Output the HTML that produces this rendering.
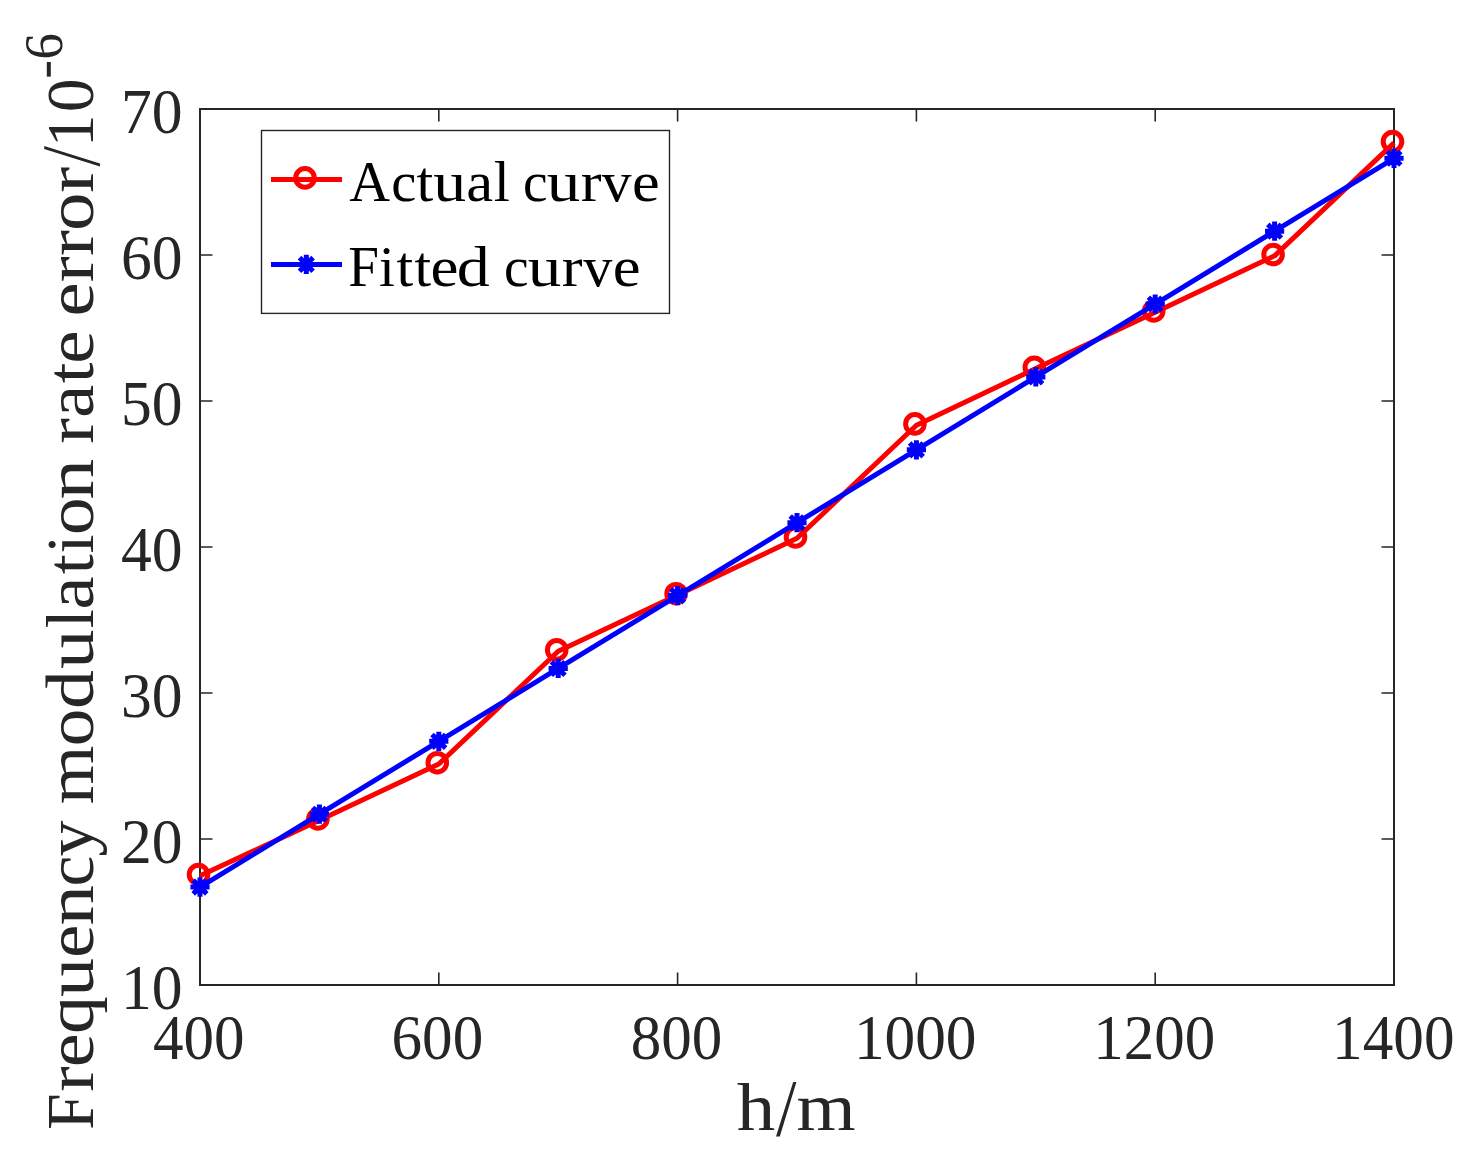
<!DOCTYPE html>
<html><head><meta charset="utf-8"><style>
html,body{margin:0;padding:0;background:#fff;width:1473px;height:1152px;overflow:hidden}
svg{display:block}
text{font-family:"Liberation Serif",serif;font-kerning:none;white-space:pre}
</style></head><body>
<svg width="1473" height="1152" viewBox="0 0 1473 1152">
<rect x="0" y="0" width="1473" height="1152" fill="#fff"/>
<path d="M200.00 985.0V972.5M200.00 109.0V121.5M438.80 985.0V972.5M438.80 109.0V121.5M677.60 985.0V972.5M677.60 109.0V121.5M916.40 985.0V972.5M916.40 109.0V121.5M1155.20 985.0V972.5M1155.20 109.0V121.5M1394.00 985.0V972.5M1394.00 109.0V121.5M200.0 985.00H212.5M1394.0 985.00H1381.5M200.0 839.00H212.5M1394.0 839.00H1381.5M200.0 693.00H212.5M1394.0 693.00H1381.5M200.0 547.00H212.5M1394.0 547.00H1381.5M200.0 401.00H212.5M1394.0 401.00H1381.5M200.0 255.00H212.5M1394.0 255.00H1381.5M200.0 109.00H212.5M1394.0 109.00H1381.5" stroke="#262626" stroke-width="1.6" fill="none"/>
<rect x="200.0" y="109.0" width="1194.0" height="876.0" stroke="#262626" stroke-width="2" fill="none"/>
<polyline points="200.00,875.80 319.40,820.30 438.80,764.00 558.20,651.20 677.60,595.00 797.00,538.30 916.40,425.20 1035.80,368.60 1155.20,312.30 1274.60,255.85 1394.00,142.90" fill="none" stroke="#f00" stroke-width="5" stroke-linejoin="round"/>
<circle cx="198.50" cy="874.50" r="9.3" fill="none" stroke="#f00" stroke-width="5"/>
<circle cx="317.90" cy="819.00" r="9.3" fill="none" stroke="#f00" stroke-width="5"/>
<circle cx="437.30" cy="762.70" r="9.3" fill="none" stroke="#f00" stroke-width="5"/>
<circle cx="556.70" cy="649.90" r="9.3" fill="none" stroke="#f00" stroke-width="5"/>
<circle cx="676.10" cy="593.70" r="9.3" fill="none" stroke="#f00" stroke-width="5"/>
<circle cx="795.50" cy="537.00" r="9.3" fill="none" stroke="#f00" stroke-width="5"/>
<circle cx="914.90" cy="423.90" r="9.3" fill="none" stroke="#f00" stroke-width="5"/>
<circle cx="1034.30" cy="367.30" r="9.3" fill="none" stroke="#f00" stroke-width="5"/>
<circle cx="1153.70" cy="311.00" r="9.3" fill="none" stroke="#f00" stroke-width="5"/>
<circle cx="1273.10" cy="254.55" r="9.3" fill="none" stroke="#f00" stroke-width="5"/>
<circle cx="1392.50" cy="141.60" r="9.3" fill="none" stroke="#f00" stroke-width="5"/>
<polyline points="200.00,887.10 319.40,814.22 438.80,741.34 558.20,668.46 677.60,595.58 797.00,522.70 916.40,449.82 1035.80,376.94 1155.20,304.06 1274.60,231.18 1394.00,158.30" fill="none" stroke="#00f" stroke-width="5" stroke-linejoin="round"/>
<path d="M190.40 887.10L209.60 887.10M193.21 880.31L206.79 893.89M200.00 877.50L200.00 896.70M206.79 880.31L193.21 893.89M309.80 814.22L329.00 814.22M312.61 807.43L326.19 821.01M319.40 804.62L319.40 823.82M326.19 807.43L312.61 821.01M429.20 741.34L448.40 741.34M432.01 734.55L445.59 748.13M438.80 731.74L438.80 750.94M445.59 734.55L432.01 748.13M548.60 668.46L567.80 668.46M551.41 661.67L564.99 675.25M558.20 658.86L558.20 678.06M564.99 661.67L551.41 675.25M668.00 595.58L687.20 595.58M670.81 588.79L684.39 602.37M677.60 585.98L677.60 605.18M684.39 588.79L670.81 602.37M787.40 522.70L806.60 522.70M790.21 515.91L803.79 529.49M797.00 513.10L797.00 532.30M803.79 515.91L790.21 529.49M906.80 449.82L926.00 449.82M909.61 443.03L923.19 456.61M916.40 440.22L916.40 459.42M923.19 443.03L909.61 456.61M1026.20 376.94L1045.40 376.94M1029.01 370.15L1042.59 383.73M1035.80 367.34L1035.80 386.54M1042.59 370.15L1029.01 383.73M1145.60 304.06L1164.80 304.06M1148.41 297.27L1161.99 310.85M1155.20 294.46L1155.20 313.66M1161.99 297.27L1148.41 310.85M1265.00 231.18L1284.20 231.18M1267.81 224.39L1281.39 237.97M1274.60 221.58L1274.60 240.78M1281.39 224.39L1267.81 237.97M1384.40 158.30L1403.60 158.30M1387.21 151.51L1400.79 165.09M1394.00 148.70L1394.00 167.90M1400.79 151.51L1387.21 165.09" stroke="#00f" stroke-width="5" fill="none"/>
<rect x="261.5" y="130.5" width="408" height="182.9" fill="#fff" stroke="#262626" stroke-width="1.4"/>
<path d="M271 179.4H342" stroke="#f00" stroke-width="5"/>
<circle cx="305.00" cy="177.90" r="9.3" fill="none" stroke="#f00" stroke-width="5"/>
<path d="M271 264.5H342" stroke="#00f" stroke-width="5"/>
<path d="M296.70 264.40L315.90 264.40M299.51 257.61L313.09 271.19M306.30 254.80L306.30 274.00M313.09 257.61L299.51 271.19" stroke="#00f" stroke-width="5" fill="none"/>
<text x="349.35" y="200.80" font-size="57.5" textLength="40.82" lengthAdjust="spacingAndGlyphs" fill="#000">A</text>
<text x="391.15" y="200.80" font-size="57.5" textLength="25.09" lengthAdjust="spacingAndGlyphs" fill="#000">c</text>
<text x="416.61" y="200.80" font-size="57.5" textLength="16.74" lengthAdjust="spacingAndGlyphs" fill="#000">t</text>
<text x="433.23" y="200.80" font-size="57.5" textLength="32.89" lengthAdjust="spacingAndGlyphs" fill="#000">u</text>
<text x="466.17" y="200.80" font-size="57.5" textLength="26.85" lengthAdjust="spacingAndGlyphs" fill="#000">a</text>
<text x="493.84" y="200.80" font-size="57.5" textLength="16.12" lengthAdjust="spacingAndGlyphs" fill="#000">l</text>
<text x="522.89" y="200.80" font-size="57.5" textLength="24.62" lengthAdjust="spacingAndGlyphs" fill="#000">c</text>
<text x="546.72" y="200.80" font-size="57.5" textLength="33.53" lengthAdjust="spacingAndGlyphs" fill="#000">u</text>
<text x="580.85" y="200.80" font-size="57.5" textLength="20.80" lengthAdjust="spacingAndGlyphs" fill="#000">r</text>
<text x="601.70" y="200.80" font-size="57.5" textLength="29.70" lengthAdjust="spacingAndGlyphs" fill="#000">v</text>
<text x="631.96" y="200.80" font-size="57.5" textLength="27.70" lengthAdjust="spacingAndGlyphs" fill="#000">e</text>
<text x="348.31" y="285.60" font-size="57.5" textLength="30.68" lengthAdjust="spacingAndGlyphs" fill="#000">F</text>
<text x="379.10" y="285.60" font-size="57.5" textLength="15.89" lengthAdjust="spacingAndGlyphs" fill="#000">i</text>
<text x="396.51" y="285.60" font-size="57.5" textLength="16.74" lengthAdjust="spacingAndGlyphs" fill="#000">t</text>
<text x="414.52" y="285.60" font-size="57.5" textLength="16.64" lengthAdjust="spacingAndGlyphs" fill="#000">t</text>
<text x="430.54" y="285.60" font-size="57.5" textLength="27.94" lengthAdjust="spacingAndGlyphs" fill="#000">e</text>
<text x="456.72" y="285.60" font-size="57.5" textLength="32.99" lengthAdjust="spacingAndGlyphs" fill="#000">d</text>
<text x="503.89" y="285.60" font-size="57.5" textLength="24.62" lengthAdjust="spacingAndGlyphs" fill="#000">c</text>
<text x="527.72" y="285.60" font-size="57.5" textLength="33.53" lengthAdjust="spacingAndGlyphs" fill="#000">u</text>
<text x="561.85" y="285.60" font-size="57.5" textLength="20.80" lengthAdjust="spacingAndGlyphs" fill="#000">r</text>
<text x="583.30" y="285.60" font-size="57.5" textLength="29.10" lengthAdjust="spacingAndGlyphs" fill="#000">v</text>
<text x="612.85" y="285.60" font-size="57.5" textLength="27.82" lengthAdjust="spacingAndGlyphs" fill="#000">e</text>
<text x="153.01" y="1058.50" font-size="62.5" textLength="91.52" lengthAdjust="spacingAndGlyphs" fill="#262626">400</text>
<text x="391.57" y="1058.50" font-size="62.5" textLength="91.65" lengthAdjust="spacingAndGlyphs" fill="#262626">600</text>
<text x="630.78" y="1058.50" font-size="62.5" textLength="91.55" lengthAdjust="spacingAndGlyphs" fill="#262626">800</text>
<text x="853.91" y="1058.50" font-size="62.5" textLength="122.62" lengthAdjust="spacingAndGlyphs" fill="#262626">1000</text>
<text x="1093.34" y="1058.50" font-size="62.5" textLength="121.88" lengthAdjust="spacingAndGlyphs" fill="#262626">1200</text>
<text x="1332.12" y="1058.50" font-size="62.5" textLength="122.41" lengthAdjust="spacingAndGlyphs" fill="#262626">1400</text>
<text x="120.88" y="1008.80" font-size="62.5" textLength="61.56" lengthAdjust="spacingAndGlyphs" fill="#262626">10</text>
<text x="120.88" y="862.80" font-size="62.5" textLength="61.56" lengthAdjust="spacingAndGlyphs" fill="#262626">20</text>
<text x="120.88" y="716.80" font-size="62.5" textLength="61.56" lengthAdjust="spacingAndGlyphs" fill="#262626">30</text>
<text x="120.88" y="570.80" font-size="62.5" textLength="61.56" lengthAdjust="spacingAndGlyphs" fill="#262626">40</text>
<text x="120.88" y="424.80" font-size="62.5" textLength="61.56" lengthAdjust="spacingAndGlyphs" fill="#262626">50</text>
<text x="120.88" y="278.80" font-size="62.5" textLength="61.56" lengthAdjust="spacingAndGlyphs" fill="#262626">60</text>
<text x="120.88" y="132.80" font-size="62.5" textLength="61.56" lengthAdjust="spacingAndGlyphs" fill="#262626">70</text>
<text x="736.85" y="1129.90" font-size="68" textLength="38.47" lengthAdjust="spacingAndGlyphs" fill="#262626">h</text>
<text x="796.50" y="1129.90" font-size="68" textLength="59.19" lengthAdjust="spacingAndGlyphs" fill="#262626">m</text>
<polygon points="793.2,1082 796.4,1082 779.8,1136.6 776,1136.6" fill="#262626"/>
<text transform="translate(92.50,1127.80) rotate(-90)" x="-1.88" y="0" font-size="68.5" textLength="36.23" lengthAdjust="spacingAndGlyphs" fill="#262626">F</text>
<text transform="translate(92.50,1090.30) rotate(-90)" x="-1.53" y="0" font-size="68.5" textLength="25.51" lengthAdjust="spacingAndGlyphs" fill="#262626">r</text>
<text transform="translate(92.50,1064.30) rotate(-90)" x="-2.98" y="0" font-size="68.5" textLength="33.82" lengthAdjust="spacingAndGlyphs" fill="#262626">e</text>
<text transform="translate(92.50,1031.20) rotate(-90)" x="-2.74" y="0" font-size="68.5" textLength="37.91" lengthAdjust="spacingAndGlyphs" fill="#262626">q</text>
<text transform="translate(92.50,996.00) rotate(-90)" x="-1.03" y="0" font-size="68.5" textLength="39.17" lengthAdjust="spacingAndGlyphs" fill="#262626">u</text>
<text transform="translate(92.50,955.00) rotate(-90)" x="-2.93" y="0" font-size="68.5" textLength="33.34" lengthAdjust="spacingAndGlyphs" fill="#262626">e</text>
<text transform="translate(92.50,923.75) rotate(-90)" x="-1.86" y="0" font-size="68.5" textLength="40.54" lengthAdjust="spacingAndGlyphs" fill="#262626">n</text>
<text transform="translate(92.50,883.80) rotate(-90)" x="-2.65" y="0" font-size="68.5" textLength="30.89" lengthAdjust="spacingAndGlyphs" fill="#262626">c</text>
<text transform="translate(92.50,855.60) rotate(-90)" x="-0.88" y="0" font-size="68.5" textLength="35.96" lengthAdjust="spacingAndGlyphs" fill="#262626">y</text>
<text transform="translate(92.50,802.60) rotate(-90)" x="-1.59" y="0" font-size="68.5" textLength="58.77" lengthAdjust="spacingAndGlyphs" fill="#262626">m</text>
<text transform="translate(92.50,743.30) rotate(-90)" x="-2.87" y="0" font-size="68.5" textLength="37.63" lengthAdjust="spacingAndGlyphs" fill="#262626">o</text>
<text transform="translate(92.50,706.20) rotate(-90)" x="-2.81" y="0" font-size="68.5" textLength="38.86" lengthAdjust="spacingAndGlyphs" fill="#262626">d</text>
<text transform="translate(92.50,668.00) rotate(-90)" x="-1.04" y="0" font-size="68.5" textLength="39.49" lengthAdjust="spacingAndGlyphs" fill="#262626">u</text>
<text transform="translate(92.50,627.00) rotate(-90)" x="-1.37" y="0" font-size="68.5" textLength="19.04" lengthAdjust="spacingAndGlyphs" fill="#262626">l</text>
<text transform="translate(92.50,606.80) rotate(-90)" x="-2.61" y="0" font-size="68.5" textLength="32.92" lengthAdjust="spacingAndGlyphs" fill="#262626">a</text>
<text transform="translate(92.50,573.60) rotate(-90)" x="-0.70" y="0" font-size="68.5" textLength="20.03" lengthAdjust="spacingAndGlyphs" fill="#262626">t</text>
<text transform="translate(92.50,552.10) rotate(-90)" x="-1.43" y="0" font-size="68.5" textLength="18.93" lengthAdjust="spacingAndGlyphs" fill="#262626">i</text>
<text transform="translate(92.50,532.10) rotate(-90)" x="-2.87" y="0" font-size="68.5" textLength="37.63" lengthAdjust="spacingAndGlyphs" fill="#262626">o</text>
<text transform="translate(92.50,497.90) rotate(-90)" x="-1.88" y="0" font-size="68.5" textLength="40.92" lengthAdjust="spacingAndGlyphs" fill="#262626">n</text>
<text transform="translate(92.50,442.30) rotate(-90)" x="-1.54" y="0" font-size="68.5" textLength="25.62" lengthAdjust="spacingAndGlyphs" fill="#262626">r</text>
<text transform="translate(92.50,415.10) rotate(-90)" x="-2.61" y="0" font-size="68.5" textLength="32.92" lengthAdjust="spacingAndGlyphs" fill="#262626">a</text>
<text transform="translate(92.50,382.50) rotate(-90)" x="-0.73" y="0" font-size="68.5" textLength="20.66" lengthAdjust="spacingAndGlyphs" fill="#262626">t</text>
<text transform="translate(92.50,360.80) rotate(-90)" x="-2.92" y="0" font-size="68.5" textLength="33.22" lengthAdjust="spacingAndGlyphs" fill="#262626">e</text>
<text transform="translate(92.50,313.50) rotate(-90)" x="-3.01" y="0" font-size="68.5" textLength="34.18" lengthAdjust="spacingAndGlyphs" fill="#262626">e</text>
<text transform="translate(92.50,280.80) rotate(-90)" x="-1.55" y="0" font-size="68.5" textLength="25.83" lengthAdjust="spacingAndGlyphs" fill="#262626">r</text>
<text transform="translate(92.50,254.40) rotate(-90)" x="-1.55" y="0" font-size="68.5" textLength="25.83" lengthAdjust="spacingAndGlyphs" fill="#262626">r</text>
<text transform="translate(92.50,228.00) rotate(-90)" x="-2.93" y="0" font-size="68.5" textLength="38.46" lengthAdjust="spacingAndGlyphs" fill="#262626">o</text>
<text transform="translate(92.50,191.25) rotate(-90)" x="-1.56" y="0" font-size="68.5" textLength="25.89" lengthAdjust="spacingAndGlyphs" fill="#262626">r</text>
<polygon points="44.2,146.1 100,163.5 100,166.6 44.2,149.0" fill="#262626"/>
<text transform="translate(92.50,141.20) rotate(-90)" x="-5.72" y="0" font-size="68.5" textLength="32.52" lengthAdjust="spacingAndGlyphs" fill="#262626">1</text>
<text transform="translate(92.50,109.70) rotate(-90)" x="-2.58" y="0" font-size="68.5" textLength="33.86" lengthAdjust="spacingAndGlyphs" fill="#262626">0</text>
<rect x="46.8" y="62" width="4" height="14.6" fill="#262626"/>
<text transform="translate(62.30,57.20) rotate(-90)" x="-2.27" y="0" font-size="54" textLength="26.45" lengthAdjust="spacingAndGlyphs" fill="#262626">6</text>
</svg>
</body></html>
